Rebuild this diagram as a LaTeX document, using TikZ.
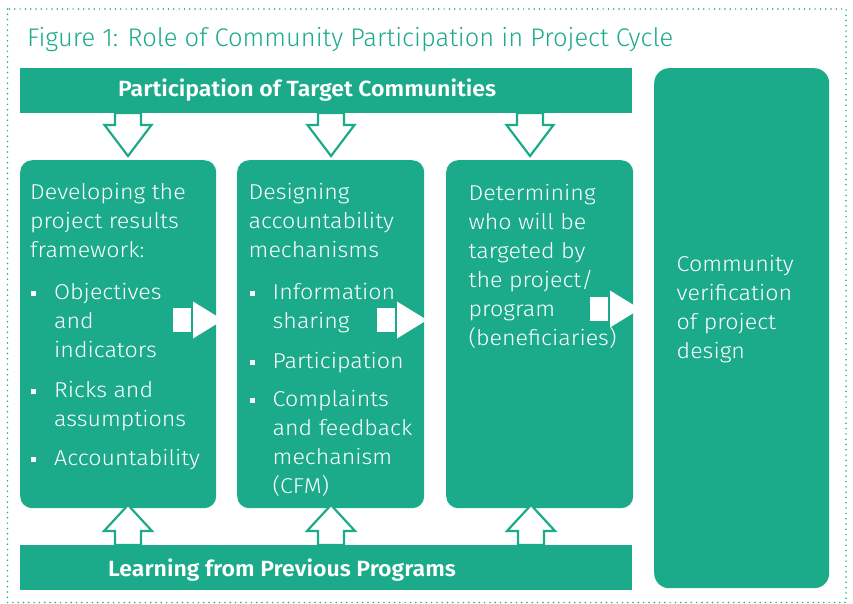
\documentclass[tikz,border=0pt]{standalone}
\usepackage{fontspec}
\setmainfont{Fira Sans}[UprightFont=* Light, BoldFont=* SemiBold]
\newfontfamily\cpbodyfont{Fira Sans}[UprightFont=* Light, FakeStretch=1.08]
\newfontfamily\cpbarfont{Fira Sans}[UprightFont=* SemiBold, FakeStretch=1.05]
\definecolor{cpgreen}{RGB}{27,171,138}

% square bullet followed by the item indent
\newcommand{\cpbul}{\makebox[24pt][l]{\hspace*{1pt}\rule[3pt]{5pt}{5pt}}}
\newcommand{\cpind}{\hspace*{24pt}}

\tikzset{
  panel/.style={fill=cpgreen, draw=none, rounded corners=12pt, inner sep=0pt, anchor=north west},
  bandbar/.style={fill=cpgreen, draw=none, inner sep=0pt, anchor=north west},
  % anchored at the baseline of the last line
  paneltext/.style={text=white, align=left, inner sep=0pt, anchor=base west,
    font=\cpbodyfont\fontsize{21.5}{29}\selectfont},
  bartext/.style={text=white, inner sep=0pt, anchor=base west,
    font=\cpbarfont\fontsize{22}{26}\selectfont},
  hollowarrow/.style={draw=cpgreen, fill=white, line width=2.2pt, line join=miter},
  solidarrow/.style={fill=white, draw=none},
  pics/downarrow/.style={code={
    \path[hollowarrow] (-13,0) -- (-13,12) -- (-23.5,12) -- (0,43) -- (23.5,12) -- (13,12) -- (13,0) -- cycle;}},
  pics/uparrow/.style={code={
    \path[hollowarrow] (-13,0) -- (-13,-14) -- (-24,-14) -- (0,-40) -- (24,-14) -- (13,-14) -- (13,0) -- cycle;}},
  pics/rightarrow/.style={code={
    \path[solidarrow] (-50,-12) rectangle (-32,12);
    \path[solidarrow] (-30,-18.5) -- (0,0) -- (-30,18.5) -- cycle;}}
}

\begin{document}
\begin{tikzpicture}[x=1pt, y=-1pt]
  \useasboundingbox (0,0) rectangle (853,604);

  % dotted frame
  \draw[cpgreen, line width=1.7pt, line cap=round, dash pattern=on 0pt off 5.3pt]
    (7.5,9) rectangle (846,602.5);

  % title
  \node[text=cpgreen, inner sep=0pt, anchor=base west, font=\fontsize{25.5}{30}\selectfont]
    (title) at (27,46.5) {Figure 1: Role of Community Participation in Project Cycle};

  % horizontal bands
  \node[bandbar, minimum width=612pt, minimum height=45pt] (topbar) at (20,68) {};
  \node[bandbar, minimum width=612pt, minimum height=45pt] (botbar) at (20,545) {};
  \node[bartext] (toptext) at (118,96.5) {Participation of Target Communities};
  \node[bartext] (bottext) at (108,576) {Learning from Previous Programs};

  % stage panels
  \node[panel, minimum width=196pt, minimum height=348pt] (dev) at (20,160) {};
  \node[panel, minimum width=187pt, minimum height=348pt] (acc) at (237,160) {};
  \node[panel, minimum width=187pt, minimum height=348pt] (tgt) at (446,160) {};
  \node[panel, rounded corners=15pt, minimum width=175pt, minimum height=520pt] (ver) at (654,68) {};

  % panel texts
  \node[paneltext] (devtext) at (30,465) {%
    Developing the\\ project results\\ framework:\\[13pt]
    \cpbul Objectives\\ \cpind and\\ \cpind indicators\\[11pt]
    \cpbul Ricks and\\ \cpind assumptions\\[10pt]
    \cpbul Accountability};
  \node[paneltext] (acctext) at (248.5,493) {%
    Designing\\ accountability\\ mechanisms\\[13pt]
    \cpbul Information\\ \cpind sharing\\[11pt]
    \cpbul Participation\\[9pt]
    \cpbul Complaints\\ \cpind and feedback\\ \cpind mechanism\\ \cpind (CFM)};
  \node[paneltext] (tgttext) at (468.5,345.5) {%
    Determining\\ who will be\\ targeted by\\ the project/\\ program\\ (beneficiaries)};
  \node[paneltext] (vertext) at (676.5,358) {%
    Community\\ verification\\ of project\\ design};

  % arrows from the top band into the panels
  \pic at (128,113) {downarrow};
  \pic at (331,113) {downarrow};
  \pic at (530,113) {downarrow};

  % arrows from the bottom band into the panels
  \pic at (128,545) {uparrow};
  \pic at (331,545) {uparrow};
  \pic at (531,545) {uparrow};

  % arrows between panels
  \pic at (223,320) {rightarrow};
  \pic at (427,320) {rightarrow};
  \pic at (640,309) {rightarrow};
\end{tikzpicture}
\end{document}
